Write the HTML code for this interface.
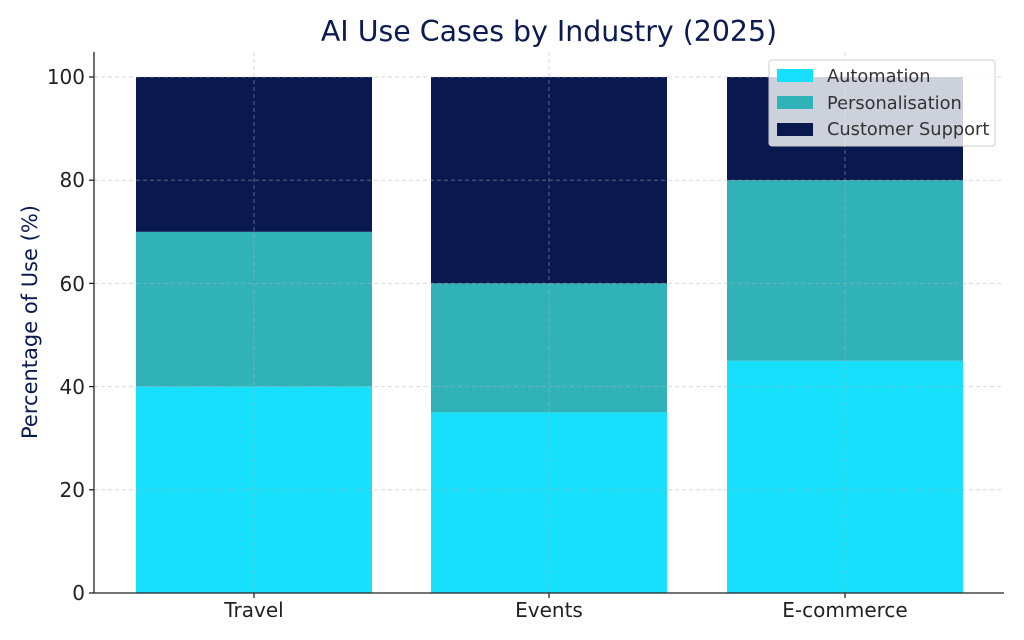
<!DOCTYPE html>
<html><head><meta charset="utf-8"><style>body{margin:0;background:#fff}svg{display:block}text{font-family:"DejaVu Sans","Liberation Sans",sans-serif}</style></head><body>
<svg width="1024" height="640" viewBox="0 0 1024 640">
<rect width="1024" height="640" fill="#fff"/>
<text x="549" y="41" text-anchor="middle" font-size="28.4" fill="#0b1a50">AI Use Cases by Industry (2025)</text>
<g>
<rect x="136" y="386.6" width="236" height="206.4" fill="#17e0fd"/>
<rect x="136" y="231.8" width="236" height="154.8" fill="#31b2b8"/>
<rect x="136" y="77" width="236" height="154.8" fill="#091950"/>
<rect x="431" y="412.4" width="236" height="180.6" fill="#17e0fd"/>
<rect x="431" y="283.4" width="236" height="129" fill="#31b2b8"/>
<rect x="431" y="77" width="236" height="206.4" fill="#091950"/>
<rect x="727" y="360.8" width="236" height="232.2" fill="#17e0fd"/>
<rect x="727" y="180.2" width="236" height="180.6" fill="#31b2b8"/>
<rect x="727" y="77" width="236" height="103.2" fill="#091950"/>
</g>
<g stroke="#b0b0b0" stroke-opacity="0.5" stroke-width="1" stroke-dasharray="4,3">
<line x1="94" x2="1004" y1="489.8" y2="489.8"/>
<line x1="94" x2="1004" y1="386.6" y2="386.6"/>
<line x1="94" x2="1004" y1="283.4" y2="283.4"/>
<line x1="94" x2="1004" y1="180.2" y2="180.2"/>
<line x1="94" x2="1004" y1="77" y2="77"/>
<line x1="254" x2="254" y1="52" y2="593"/>
<line x1="549" x2="549" y1="52" y2="593"/>
<line x1="845" x2="845" y1="52" y2="593"/>
</g>
<g stroke="#222" stroke-width="1.3">
<line x1="94" x2="94" y1="52" y2="593"/>
<line x1="94" x2="1004" y1="593" y2="593"/>
<line x1="89" x2="94" y1="593" y2="593"/><line x1="89" x2="94" y1="489.8" y2="489.8"/><line x1="89" x2="94" y1="386.6" y2="386.6"/><line x1="89" x2="94" y1="283.4" y2="283.4"/><line x1="89" x2="94" y1="180.2" y2="180.2"/><line x1="89" x2="94" y1="77" y2="77"/>
<line x1="254" x2="254" y1="593" y2="598"/><line x1="549" x2="549" y1="593" y2="598"/><line x1="845" x2="845" y1="593" y2="598"/>
</g>
<g font-size="20" fill="#222" text-anchor="end">
<text x="85" y="600">0</text><text x="85" y="497">20</text><text x="85" y="394">40</text><text x="85" y="291">60</text><text x="85" y="187">80</text><text x="85" y="84">100</text>
</g>
<g font-size="20" fill="#222" text-anchor="middle">
<text x="254" y="617">Travel</text><text x="549" y="617">Events</text><text x="845" y="617">E-commerce</text>
</g>
<text transform="translate(37,322) rotate(-90)" text-anchor="middle" font-size="21" fill="#0b1a50">Percentage of Use (%)</text>
<rect x="769" y="60" width="226" height="86" rx="3" fill="#fff" fill-opacity="0.8" stroke="#ccc"/>
<rect x="777" y="69" width="36" height="13" fill="#17e0fd"/>
<rect x="777" y="96" width="36" height="13" fill="#31b2b8"/>
<rect x="777" y="123" width="36" height="13" fill="#091950"/>
<g font-size="17.8" fill="#333">
<text x="827" y="82">Automation</text><text x="827" y="109">Personalisation</text><text x="827" y="135">Customer Support</text>
</g>
</svg>
</body></html>
